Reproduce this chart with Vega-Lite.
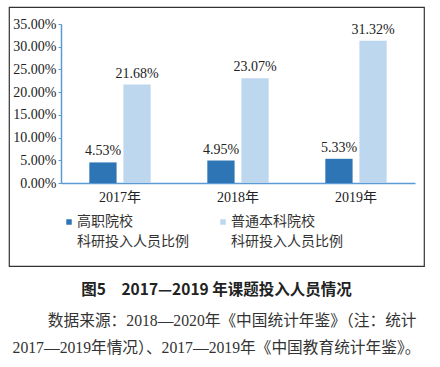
{
  "$schema": "https://vega.github.io/schema/vega-lite/v6.json",
  "width": 415,
  "height": 259,
  "padding": {"left": 9, "top": 7, "right": 16, "bottom": 0},
  "background": "white",
  "data": {
    "values": [
      {"year": "2017年", "type": "高职院校科研投入人员比例", "value": 0.0453},
      {"year": "2017年", "type": "普通本科院校科研投入人员比例", "value": 0.2168},
      {"year": "2018年", "type": "高职院校科研投入人员比例", "value": 0.0495},
      {"year": "2018年", "type": "普通本科院校科研投入人员比例", "value": 0.2307},
      {"year": "2019年", "type": "高职院校科研投入人员比例", "value": 0.0533},
      {"year": "2019年", "type": "普通本科院校科研投入人员比例", "value": 0.3132}
    ]
  },
  "title": {
    "text": "图5　2017—2019 年课题投入人员情况",
    "subtitle": ["\u200b\u00a0\u00a0\u00a0\u00a0\u00a0\u00a0\u00a0\u00a0数据来源：2018—2020年《中国统计年鉴》（注：统计", "2017—2019年情况）、2017—2019年《中国教育统计年鉴》。"],
    "orient": "bottom",
    "anchor": "middle",
    "offset": 17
  },
  "encoding": {
    "x": {
      "field": "year",
      "type": "nominal",
      "scale": {"range": [52, 406], "paddingInner": 0.48, "paddingOuter": 0.24},
      "axis": {
        "title": null,
        "orient": "bottom",
        "offset": -83,
        "labelAngle": 0,
        "ticks": false,
        "domainColor": "#5b9bd5",
        "domainWidth": 1.5,
        "labelPadding": 7,
        "labelFont": "Liberation Serif, Noto Sans CJK SC",
        "labelFontSize": 14,
        "labelColor": "#222"
      }
    },
    "xOffset": {
      "field": "type",
      "type": "nominal",
      "sort": ["高职院校科研投入人员比例", "普通本科院校科研投入人员比例"],
      "scale": {"paddingInner": 0.2}
    },
    "y": {
      "field": "value",
      "type": "quantitative",
      "scale": {"domain": [0, 0.35], "range": [176, 17], "nice": false},
      "axis": {
        "title": null,
        "orient": "left",
        "offset": -52,
        "values": [0, 0.05, 0.1, 0.15, 0.2, 0.25, 0.3, 0.35],
        "format": ".2%",
        "grid": false,
        "tickSize": 3,
        "tickColor": "#5b9bd5",
        "domainColor": "#5b9bd5",
        "domainWidth": 1.5,
        "labelPadding": 2,
        "labelFont": "Liberation Serif, Noto Sans CJK SC",
        "labelFontSize": 14,
        "labelColor": "#222"
      }
    }
  },
  "layer": [
    {
      "mark": {"type": "bar"},
      "encoding": {
        "color": {
          "field": "type",
          "type": "nominal",
          "sort": ["高职院校科研投入人员比例", "普通本科院校科研投入人员比例"],
          "scale": {"range": ["#2e75b6", "#bdd7ee"]},
          "legend": {
            "title": null,
            "orient": "none",
            "legendX": 53,
            "legendY": 208,
            "direction": "horizontal",
            "columns": 2,
            "columnPadding": 27,
            "symbolType": "square",
            "symbolSize": 30,
            "symbolStrokeWidth": 0,
            "labelFont": "Noto Sans CJK SC",
            "labelFontSize": 14,
            "labelColor": "#333",
            "labelLimit": 300,
            "labelOffset": 1,
            "labelExpr": "split(replace(datum.label, '院校', '院校|'), '|')",
            "encode": {"labels": {"update": {"lineHeight": {"value": 20}}}}
          }
        }
      }
    },
    {
      "mark": {"type": "text", "baseline": "bottom", "dy": -4, "font": "Liberation Serif, Noto Sans CJK SC", "fontSize": 14, "color": "#222"},
      "encoding": {
        "text": {"field": "value", "type": "quantitative", "format": ".2%"}
      }
    }
  ],
  "config": {
    "view": {"stroke": "#333", "strokeWidth": 1.2},
    "title": {
      "font": "Noto Sans CJK SC",
      "fontSize": 15.5,
      "fontWeight": "bold",
      "color": "#222",
      "subtitleFont": "Liberation Serif, Noto Sans CJK SC",
      "subtitleFontSize": 15.7,
      "subtitleColor": "#333",
      "subtitleLineHeight": 27,
      "subtitlePadding": 15
    }
  }
}
